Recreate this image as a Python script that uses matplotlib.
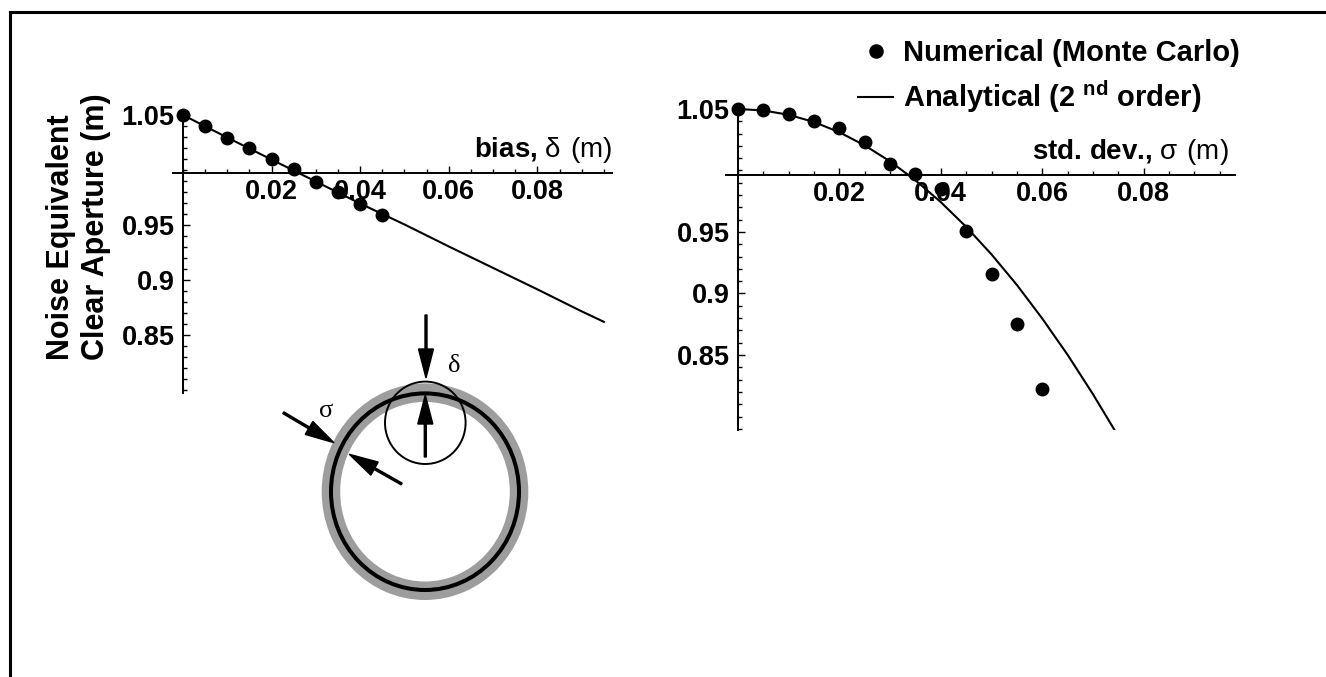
import matplotlib
matplotlib.use('Agg')
import matplotlib.pyplot as plt
from matplotlib.patches import Annulus, Ellipse, FancyArrow
from matplotlib.ticker import FixedLocator, FixedFormatter, MultipleLocator

# values
bias = [0, 0.005, 0.01, 0.015, 0.02, 0.025, 0.03, 0.035, 0.04, 0.045]
bias_mc = [1.05, 1.0403, 1.0294, 1.0197, 1.0103, 1.0006, 0.9894, 0.9797, 0.9691, 0.9588]
bias_fit_x = [0, 0.01, 0.02, 0.03, 0.04, 0.05, 0.06, 0.07, 0.08, 0.09, 0.095]
bias_fit = [1.05, 1.0295, 1.0095, 0.9895, 0.9695, 0.9505, 0.9305, 0.911, 0.8915, 0.8715, 0.862]

sigma = [0, 0.005, 0.01, 0.015, 0.02, 0.025, 0.03, 0.035, 0.04, 0.045, 0.05, 0.055, 0.06]
sigma_mc = [1.05, 1.0495, 1.046, 1.040, 1.0345, 1.023, 1.0055, 0.997, 0.985, 0.951, 0.9155, 0.8755, 0.8225]
sigma_fit_x = [0, 0.005, 0.01, 0.015, 0.02, 0.025, 0.03, 0.035, 0.04, 0.045, 0.05, 0.055,
               0.06, 0.065, 0.07, 0.075]
sigma_fit = [1.05, 1.0488, 1.0453, 1.0394, 1.0311, 1.0204, 1.0074, 0.992, 0.9743, 0.9542,
             0.9318, 0.907, 0.8797, 0.8502, 0.8182, 0.784]

x_ticks = [0.02, 0.04, 0.06, 0.08]
x_ticklabels = ['0.02', '0.04', '0.06', '0.08']
y_ticks = [0.85, 0.9, 0.95, 1.05]
y_ticklabels = ['0.85', '0.9', '0.95', '1.05']

plt.rcParams['font.family'] = ['Liberation Sans', 'DejaVu Sans']
plt.rcParams['font.weight'] = 'bold'
plt.rcParams['mathtext.fontset'] = 'custom'
plt.rcParams['mathtext.rm'] = 'Liberation Sans:weight=normal'
plt.rcParams['mathtext.bf'] = 'Liberation Sans:weight=bold'

W, H = 1326, 677
fig = plt.figure(figsize=(W / 100, H / 100), dpi=100)

# background axes in pixel units for the frame and the sketch
bg = fig.add_axes([0, 0, 1, 1], zorder=0)
bg.set_xlim(0, W)
bg.set_ylim(H, 0)
bg.axis('off')
bg.plot([10, W], [11.5, 11.5], color='black', lw=2.2)
bg.plot([10, 10], [11.5, H], color='black', lw=2.2)

bg.add_patch(Annulus((425, 491.7), (103.3, 108.3), 18.5, facecolor='#9d9d9d', edgecolor='none'))
bg.add_patch(Ellipse((425, 491.7), 188, 196.6, facecolor='none', edgecolor='black', lw=2.9))
bg.add_patch(Ellipse((425.3, 422.8), 80.6, 82.4, facecolor='none', edgecolor='black', lw=1.4))
arrow_kw = dict(width=2, head_width=15, head_length=29, length_includes_head=True,
                color='black')
bg.add_patch(FancyArrow(426, 315, 0, 63, **arrow_kw))
bg.add_patch(FancyArrow(425.3, 457, 0, -62, **arrow_kw))
bg.add_patch(FancyArrow(283.3, 412.7, 50.7, 30, **arrow_kw))
bg.add_patch(FancyArrow(401.7, 484, -52.4, -29.7, **arrow_kw))
bg.text(454, 372, 'δ', family='Liberation Serif', fontweight='normal', fontsize=19,
        ha='center', va='baseline')
bg.text(326.5, 417, 'σ', family='Liberation Serif', fontweight='normal', fontsize=19,
        ha='center', va='baseline')


def make_axes(px_left, px_right, px_top, px_bottom, xlim, ylim, ycross):
    ax = fig.add_axes([px_left / W, 1 - px_bottom / H,
                       (px_right - px_left) / W, (px_bottom - px_top) / H], zorder=2)
    ax.set_facecolor('none')
    ax.set_xlim(xlim)
    ax.set_ylim(ylim)
    ax.spines['top'].set_visible(False)
    ax.spines['right'].set_visible(False)
    ax.spines['left'].set_position(('data', 0))
    ax.spines['bottom'].set_position(('data', ycross))
    ax.spines['left'].set_bounds(ylim[0], 1.05)
    for s in ['left', 'bottom']:
        ax.spines[s].set_linewidth(1.4)
    ax.xaxis.set_major_locator(FixedLocator(x_ticks))
    ax.xaxis.set_major_formatter(FixedFormatter(x_ticklabels))
    ax.yaxis.set_major_locator(FixedLocator(y_ticks))
    ax.yaxis.set_major_formatter(FixedFormatter(y_ticklabels))
    ax.xaxis.set_minor_locator(MultipleLocator(0.005))
    ax.yaxis.set_minor_locator(MultipleLocator(0.01))
    ax.tick_params(which='both', direction='in', width=1, labelsize=19.5)
    ax.tick_params(which='major', length=5)
    ax.tick_params(which='minor', length=3)
    ax.tick_params(axis='x', pad=4)
    ax.tick_params(axis='y', pad=6)
    return ax


# left: bias
ax1 = make_axes(173, 611.8, 107, 393.3, (-0.00226, 0.0968), (0.797, 1.0573), 0.997)
ax1.plot(bias_fit_x, bias_fit, color='black', lw=1.5)
ax1.plot(bias, bias_mc, 'o', color='black', ms=9)
ax1.annotate(r'bias, $\mathrm{δ\ (m)}$', xy=(0.0968, 0.997), xytext=(0, 12),
             textcoords='offset points', ha='right', va='baseline', fontsize=20)

# right: standard deviation
ax2 = make_axes(725.8, 1234.9, 101, 430.4, (-0.0024, 0.098), (0.7887, 1.0565), 0.996)
line, = ax2.plot(sigma_fit_x, sigma_fit, color='black', lw=1.5)
dots, = ax2.plot(sigma, sigma_mc, 'o', color='black', ms=9)
ax2.annotate(r'std. dev., $\mathrm{σ\ (m)}$', xy=(0.098, 0.996), xytext=(-4.5, 11.5),
             textcoords='offset points', ha='right', va='baseline', fontsize=20)

ax2.legend([dots, line], ['Numerical (Monte Carlo)', r'Analytical (2 $^{\mathbf{nd}}$ order)'],
           loc='upper left', bbox_to_anchor=(858 / W, 1 - 39 / H),
           bbox_transform=fig.transFigure, frameon=False, fontsize=21,
           handlelength=1.2, handletextpad=0.35, borderpad=0, borderaxespad=0,
           labelspacing=0.4, markerscale=1.05)

fig.text(78.5 / W, 1 - 360 / H, 'Noise Equivalent\nClear Aperture (m)', rotation=90,
         ha='center', va='bottom', multialignment='left', fontsize=22, linespacing=1.2)

fig.savefig('out.png', dpi=100)
